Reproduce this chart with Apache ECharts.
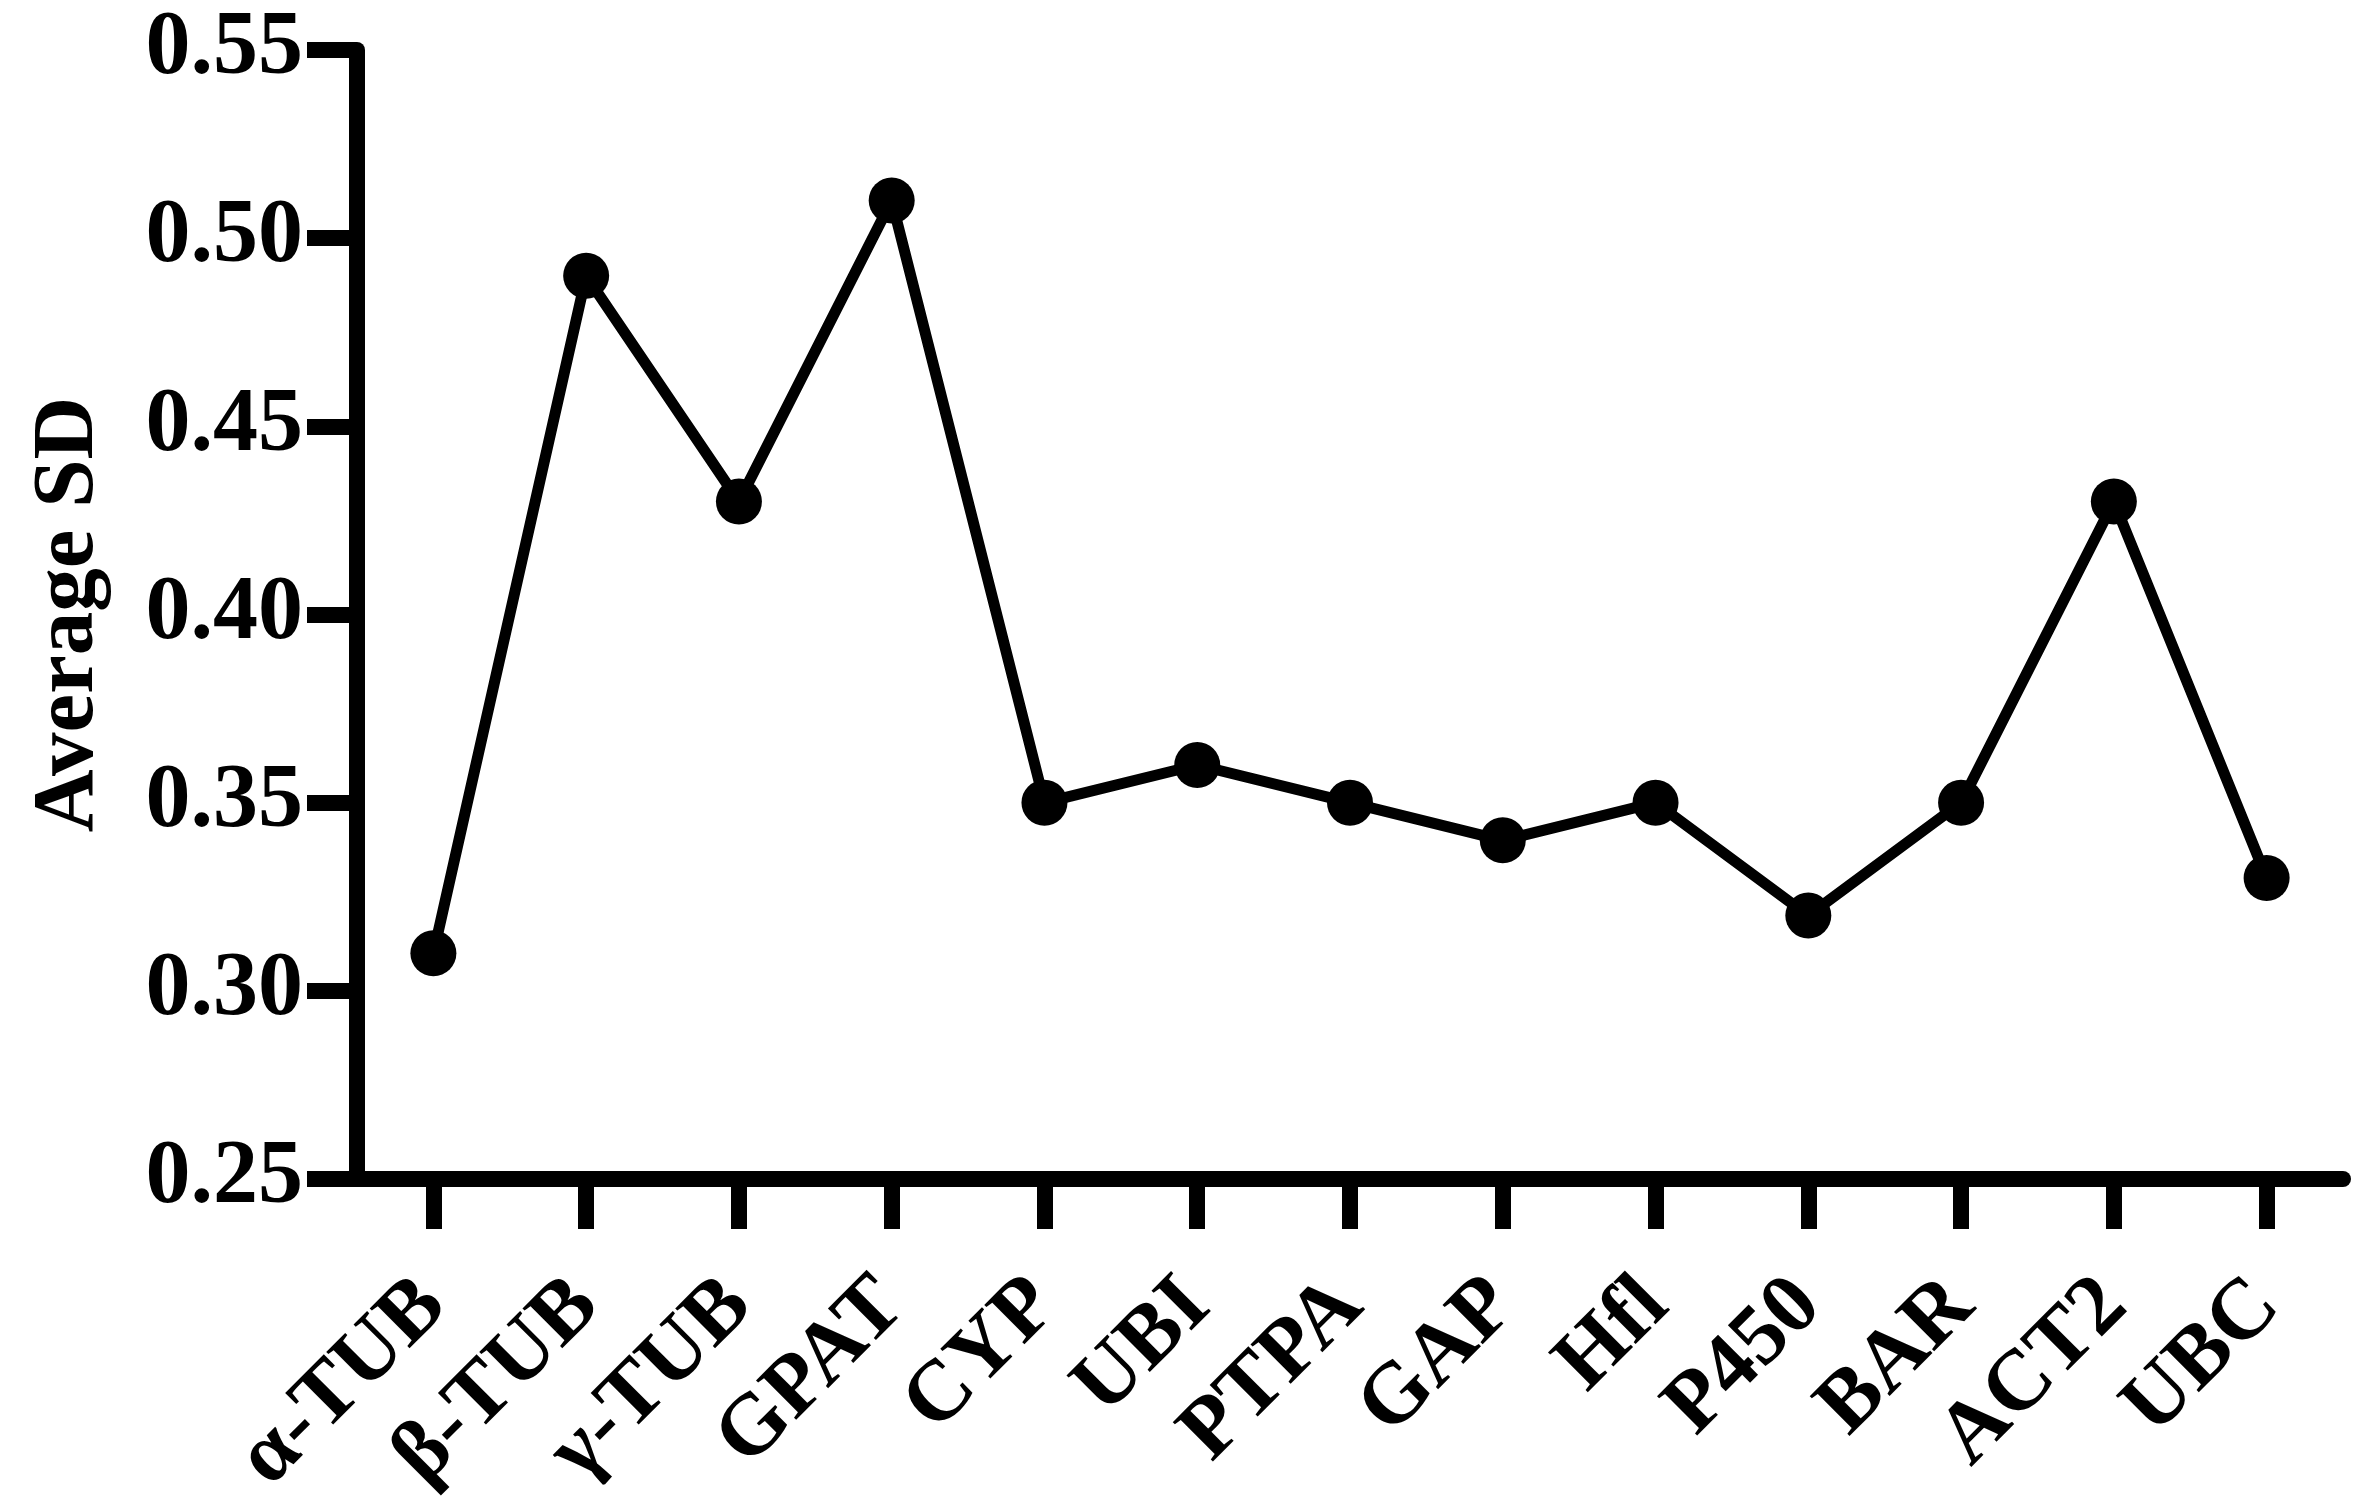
<!DOCTYPE html>
<html>
<head>
<meta charset="utf-8">
<title>Average SD</title>
<script src="https://cdn.jsdelivr.net/npm/echarts@6/dist/echarts.min.js"></script>
<style>
  html, body { margin: 0; padding: 0; background: #fff; }
  #chart { width: 2376px; height: 1510px; }
</style>
</head>
<body>
<div id="chart"></div>
<script>
// gene names on the x axis
const genes = ['α-TUB', 'β-TUB', 'γ-TUB', 'GPAT', 'CYP', 'UBI', 'PTPA', 'GAP', 'Hfl', 'P450', 'BAR', 'ACT2', 'UBC']
// average SD per gene
const avgSD = [0.31, 0.49, 0.43, 0.51, 0.35, 0.36, 0.35, 0.34, 0.35, 0.32, 0.35, 0.43, 0.33]
// y axis range
const yMin = 0.25
const yMax = 0.55
const yStep = 0.05

const font = "'Liberation Serif', 'Times New Roman', serif"
const ink = '#000'

const chart = echarts.init(document.getElementById('chart'))
chart.setOption({
  backgroundColor: '#fff',
  animation: false,
  grid: { left: 357, right: 33, top: 50, bottom: 331, outerBoundsMode: 'none' },
  xAxis: {
    type: 'category',
    data: genes,
    axisLine: { show: true, lineStyle: { color: ink, width: 16 } },
    axisTick: { show: true, alignWithLabel: true, length: 50, lineStyle: { color: ink, width: 16 } },
    axisLabel: {
      interval: 0,
      rotate: 45,
      margin: 114,
      color: ink,
      fontFamily: font,
      fontWeight: 'bold',
      fontSize: 86,
    },
    splitLine: { show: false },
  },
  yAxis: {
    type: 'value',
    min: yMin,
    max: yMax,
    interval: yStep,
    name: 'Average SD',
    nameLocation: 'middle',
    nameGap: 244,
    nameTextStyle: { color: ink, fontFamily: font, fontWeight: 'bold', fontSize: 87 },
    axisLine: { show: true, lineStyle: { color: ink, width: 16 } },
    axisTick: { show: true, length: 50, lineStyle: { color: ink, width: 16 } },
    axisLabel: {
      margin: 54,
      color: ink,
      fontFamily: font,
      fontWeight: 'bold',
      fontSize: 90,
      formatter: (v) => v.toFixed(2),
    },
    splitLine: { show: false },
  },
  series: [{
    type: 'line',
    data: avgSD,
    symbol: 'circle',
    symbolSize: 46,
    lineStyle: { color: ink, width: 11 },
    itemStyle: { color: ink },
  }],
})
</script>
</body>
</html>
